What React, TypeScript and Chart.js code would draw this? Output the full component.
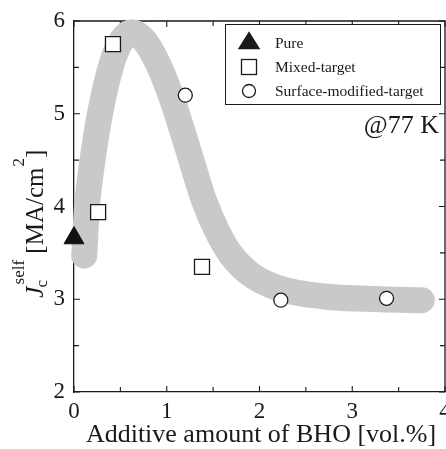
import React, { useEffect, useRef } from 'react';
import { Chart, registerables } from 'chart.js';

Chart.register(...registerables);

// ---- data ----
const pureX = [0];
const pureY = [3.66];
const mixedX = [0.26, 0.42, 1.38];
const mixedY = [3.94, 5.75, 3.35];
const surfX = [1.2, 2.23, 3.37];
const surfY = [5.2, 2.99, 3.01];
// guide band (trend line)
const bandX = [0.11, 0.14, 0.2, 0.28, 0.41, 0.52, 0.63, 0.75, 0.9, 1.06, 1.25, 1.4, 1.55, 1.7, 1.9, 2.2, 2.7, 3.3, 3.75];
const bandY = [3.47, 4.0, 4.5, 5.0, 5.55, 5.8, 5.88, 5.8, 5.55, 5.15, 4.55, 4.07, 3.72, 3.47, 3.27, 3.12, 3.03, 3.0, 2.99];
const xTickValues = [0, 1, 2, 3, 4];
const yTickValues = [2, 3, 4, 5, 6];
const legendLabels = ['Pure', 'Mixed-target', 'Surface-modified-target'];
const annotationText = '@77 K';
const xTitle = 'Additive amount of BHO [vol.%]';

const FONT = '"Liberation Serif", "Times New Roman", serif';

const toPts = (xs: number[], ys: number[]) => xs.map((x, i) => ({ x, y: ys[i] }));

const decorPlugin = {
  id: 'decor',
  beforeDatasetsDraw(chart: any) {
    const { ctx, chartArea: a, scales } = chart;
    const xs = scales.x;
    const ys = scales.y;
    ctx.save();
    ctx.strokeStyle = '#1a1a1a';
    ctx.lineWidth = 1.3;
    ctx.beginPath();
    ctx.moveTo(a.left, a.top);
    ctx.lineTo(a.right, a.top);
    ctx.lineTo(a.right, a.bottom);
    ctx.stroke();
    // inner ticks
    ctx.lineWidth = 1.1;
    ctx.beginPath();
    for (let v = 0; v <= 4.001; v += 0.5) {
      const px = xs.getPixelForValue(v);
      const len = Math.abs(v - Math.round(v)) < 1e-6 ? 6 : 5;
      ctx.moveTo(px, a.bottom);
      ctx.lineTo(px, a.bottom - len);
      ctx.moveTo(px, a.top);
      ctx.lineTo(px, a.top + len);
    }
    for (let v = 2; v <= 6.001; v += 0.5) {
      const py = ys.getPixelForValue(v);
      const len = Math.abs(v - Math.round(v)) < 1e-6 ? 6 : 5;
      ctx.moveTo(a.left, py);
      ctx.lineTo(a.left + len, py);
      ctx.moveTo(a.right, py);
      ctx.lineTo(a.right - len, py);
    }
    ctx.stroke();
    ctx.restore();
  },
  afterDraw(chart: any) {
    const { ctx } = chart;
    ctx.save();
    ctx.fillStyle = '#1a1a1a';
    ctx.strokeStyle = '#1a1a1a';

    // legend box
    const bx = 225, by = 24, bw = 215, bh = 80;
    ctx.fillStyle = '#ffffff';
    ctx.fillRect(bx, by, bw, bh);
    ctx.lineWidth = 1;
    ctx.strokeRect(bx + 0.5, by + 0.5, bw, bh);
    ctx.fillStyle = '#1a1a1a';
    const mx = 249;
    const rows = [43, 67, 91];
    // triangle
    ctx.beginPath();
    const tr = 12.5;
    ctx.moveTo(mx, rows[0] - tr * 0.95);
    ctx.lineTo(mx + tr * 0.9, rows[0] + tr * 0.5);
    ctx.lineTo(mx - tr * 0.9, rows[0] + tr * 0.5);
    ctx.closePath();
    ctx.fill();
    // square
    ctx.lineWidth = 1.3;
    ctx.strokeRect(mx - 7.5, rows[1] - 7.5, 15, 15);
    // circle
    ctx.beginPath();
    ctx.arc(mx, rows[2], 6.5, 0, Math.PI * 2);
    ctx.stroke();
    ctx.font = '15.5px ' + FONT;
    ctx.textBaseline = 'middle';
    ctx.textAlign = 'left';
    legendLabels.forEach((t, i) => ctx.fillText(t, 275, rows[i] + 1));

    // annotation
    ctx.font = '26px ' + FONT;
    ctx.textAlign = 'right';
    ctx.textBaseline = 'alphabetic';
    ctx.fillText(annotationText, 439, 133);

    // x title
    ctx.textAlign = 'center';
    ctx.fillText(xTitle, 261, 442);

    // y title (rotated, with sub/superscripts)
    ctx.translate(43, 298);
    ctx.rotate(-Math.PI / 2);
    ctx.textAlign = 'left';
    let p = 0;
    ctx.font = 'italic 26px ' + FONT;
    ctx.fillText('J', p, 0);
    p += ctx.measureText('J').width;
    ctx.font = '17px ' + FONT;
    ctx.fillText('c', p - 1, 4);
    ctx.fillText('self', p + 2, -19);
    p += 2 + ctx.measureText('self').width;
    ctx.font = '25px ' + FONT;
    const main = ' [MA/cm';
    ctx.fillText(main, p, 0);
    p += ctx.measureText(main).width;
    ctx.font = '17px ' + FONT;
    ctx.fillText('2', p + 1, -19);
    p += 1 + ctx.measureText('2').width;
    ctx.font = '25px ' + FONT;
    ctx.fillText(']', p, 0);
    ctx.restore();
  },
};

export default function App() {
  const ref = useRef<HTMLCanvasElement | null>(null);
  useEffect(() => {
    document.body.style.margin = '0';
    const canvas = ref.current!;
    const chart = new Chart(canvas, {
      type: 'scatter',
      data: {
        datasets: [
          {
            label: legendLabels[0],
            data: toPts(pureX, pureY),
            pointStyle: 'triangle',
            pointRadius: 11.5,
            backgroundColor: '#111111',
            borderColor: '#111111',
            borderWidth: 1,
            clip: false,
            order: 1,
          },
          {
            label: legendLabels[1],
            data: toPts(mixedX, mixedY),
            pointStyle: 'rect',
            pointRadius: 10.6,
            backgroundColor: '#ffffff',
            borderColor: '#1a1a1a',
            borderWidth: 1.3,
            clip: false,
            order: 1,
          },
          {
            label: legendLabels[2],
            data: toPts(surfX, surfY),
            pointStyle: 'circle',
            pointRadius: 7,
            backgroundColor: '#ffffff',
            borderColor: '#1a1a1a',
            borderWidth: 1.3,
            clip: false,
            order: 1,
          },
          {
            label: 'band',
            type: 'line',
            data: toPts(bandX, bandY),
            borderColor: '#c8c9cb',
            borderWidth: 26,
            borderCapStyle: 'round',
            borderJoinStyle: 'round',
            cubicInterpolationMode: 'monotone',
            pointRadius: 0,
            showLine: true,
            fill: false,
            clip: false,
            order: 10,
          } as any,
        ],
      },
      options: {
        animation: false,
        responsive: false,
        maintainAspectRatio: false,
        layout: { padding: { left: 0, top: 21, right: 1, bottom: 0 }, autoPadding: false } as any,
        plugins: {
          legend: { display: false },
          tooltip: { enabled: false },
          title: { display: false },
        },
        scales: {
          x: {
            type: 'linear',
            min: 0,
            max: 4,
            afterBuildTicks: (s: any) => {
              s.ticks = xTickValues.map((v) => ({ value: v }));
            },
            afterFit: (s: any) => {
              s.height = 57;
              s.paddingLeft = 0;
              s.paddingRight = 0;
              s.paddingTop = 0;
              s.paddingBottom = 0;
            },
            grid: { display: false, drawTicks: false },
            border: { display: true, color: '#1a1a1a', width: 1.3 },
            ticks: {
              color: '#1a1a1a',
              font: { family: FONT, size: 23 },
              padding: 6,
              maxRotation: 0,
              autoSkip: false,
            },
          },
          y: {
            type: 'linear',
            min: 2,
            max: 6,
            afterBuildTicks: (s: any) => {
              s.ticks = yTickValues.map((v) => ({ value: v }));
            },
            afterFit: (s: any) => {
              s.width = 74;
              s.paddingLeft = 0;
              s.paddingRight = 0;
              s.paddingTop = 0;
              s.paddingBottom = 0;
            },
            grid: { display: false, drawTicks: false },
            border: { display: true, color: '#1a1a1a', width: 1.3 },
            ticks: {
              color: '#1a1a1a',
              font: { family: FONT, size: 23 },
              padding: 9,
              autoSkip: false,
            },
          },
        },
      },
      plugins: [decorPlugin],
    });
    return () => chart.destroy();
  }, []);
  return (
    <div style={{ position: 'absolute', left: 0, top: 0, width: 446, height: 449 }}>
      <canvas ref={ref} width={446} height={449} style={{ width: 446, height: 449 }} />
    </div>
  );
}
